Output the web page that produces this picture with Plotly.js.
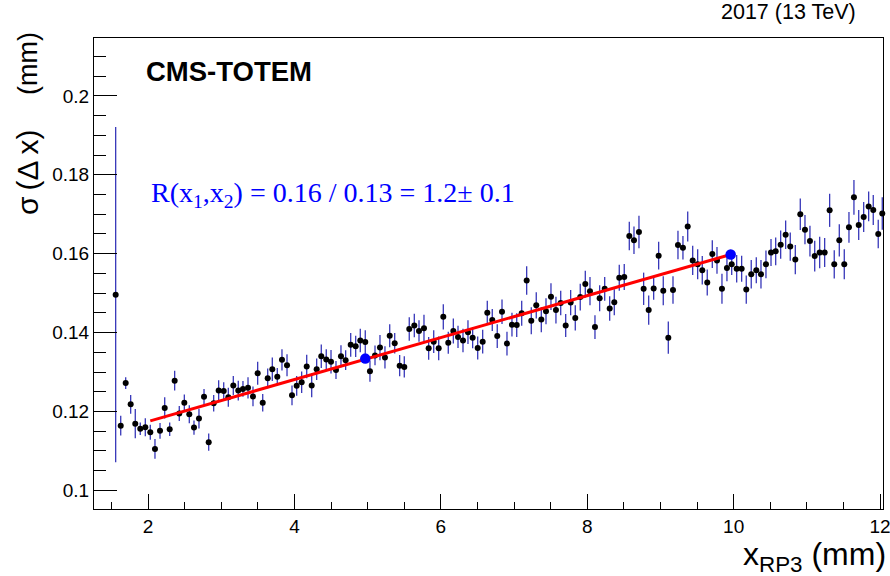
<!DOCTYPE html>
<html>
<head>
<meta charset="utf-8">
<script src="https://cdn.plot.ly/plotly-3.0.1.min.js"></script>
<style>html,body{margin:0;padding:0;background:#fff;}#chart{width:890px;height:576px;}</style>
</head>
<body>
<div id="chart"></div>
<script>
// x_RP3 bin positions (mm)
const xRP3 = [1.557,1.626,1.694,1.762,1.825,1.893,1.962,2.030,2.094,2.163,
2.227,2.295,2.363,2.426,2.495,2.563,2.627,2.695,2.764,2.828,
2.896,2.964,3.033,3.096,3.164,3.232,3.296,3.365,3.433,3.497,
3.566,3.634,3.697,3.765,3.829,3.898,3.966,4.030,4.098,4.167,
4.235,4.303,4.366,4.434,4.499,4.567,4.635,4.699,4.768,4.836,
4.899,4.967,5.031,5.100,5.168,5.236,5.301,5.369,5.437,5.500,
5.568,5.637,5.701,5.769,5.833,5.902,5.970,6.033,6.101,6.170,
6.234,6.302,6.370,6.434,6.503,6.571,6.634,6.702,6.770,6.835,
6.903,6.971,7.036,7.104,7.172,7.235,7.303,7.372,7.436,7.504,
7.572,7.637,7.705,7.773,7.836,7.904,7.973,8.037,8.105,8.169,
8.238,8.306,8.369,8.437,8.505,8.574,8.638,8.706,8.770,8.839,
8.907,8.975,9.038,9.107,9.171,9.239,9.307,9.372,9.440,9.508,
9.571,9.639,9.708,9.772,9.840,9.908,9.973,10.041,10.109,10.172,
10.240,10.309,10.373,10.441,10.510,10.574,10.642,10.710,10.773,10.842,
10.910,10.974,11.042,11.107,11.175,11.243,11.311,11.374,11.443,11.511,
11.575,11.643,11.708,11.776,11.844,11.907,11.975,12.030];

// sigma(Delta x) values (mm)
const sigmaDx = [0.1496,0.1164,0.1272,0.1218,0.1169,0.1156,0.1160,0.1147,0.1105,0.1151,
0.1209,0.1155,0.1278,0.1195,0.1222,0.1193,0.1159,0.1182,0.1237,0.1122,
0.1221,0.1253,0.1252,0.1236,0.1266,0.1253,0.1257,0.1260,0.1238,0.1297,
0.1222,0.1284,0.1307,0.1288,0.1331,0.1317,0.1241,0.1265,0.1274,0.1314,
0.1266,0.1307,0.1340,0.1332,0.1326,0.1305,0.1340,0.1330,0.1369,0.1365,
0.1380,0.1376,0.1302,0.1342,0.1362,0.1337,0.1392,0.1373,0.1316,0.1313,
0.1409,0.1418,0.1404,0.1411,0.1360,0.1377,0.1360,0.1440,0.1374,0.1404,
0.1389,0.1380,0.1401,0.1387,0.1361,0.1377,0.1450,0.1432,0.1391,0.1453,
0.1372,0.1420,0.1419,0.1449,0.1532,0.1430,0.1469,0.1433,0.1454,0.1491,
0.1457,0.1475,0.1418,0.1476,0.1437,0.1490,0.1523,0.1505,0.1414,0.1487,
0.1511,0.1461,0.1477,0.1539,0.1541,0.1645,0.1634,0.1655,0.1511,0.1457,
0.1512,0.1595,0.1506,0.1387,0.1508,0.1622,0.1615,0.1669,0.1583,0.1573,
0.1558,0.1527,0.1599,0.1583,0.1511,0.1564,0.1573,0.1562,0.1562,0.1509,
0.1548,0.1558,0.1548,0.1573,0.1603,0.1606,0.1623,0.1648,0.1618,0.1585,
0.1700,0.1661,0.1632,0.1594,0.1603,0.1603,0.1710,0.1573,0.1634,0.1573,
0.1667,0.1743,0.1673,0.1693,0.1720,0.1711,0.1650,0.1702];

// statistical errors (mm)
const sigmaErr = [0.0425,0.0025,0.0015,0.0024,0.0037,0.0016,0.0023,0.0019,0.0025,0.0020,
0.0027,0.0017,0.0025,0.0019,0.0021,0.0023,0.0018,0.0025,0.0020,0.0022,
0.0021,0.0026,0.0022,0.0024,0.0024,0.0025,0.0020,0.0027,0.0025,0.0029,
0.0022,0.0025,0.0030,0.0022,0.0027,0.0028,0.0025,0.0025,0.0027,0.0030,
0.0030,0.0027,0.0030,0.0026,0.0030,0.0023,0.0028,0.0025,0.0030,0.0027,
0.0030,0.0030,0.0027,0.0025,0.0032,0.0028,0.0029,0.0026,0.0027,0.0027,
0.0030,0.0030,0.0027,0.0034,0.0029,0.0029,0.0030,0.0032,0.0028,0.0032,
0.0028,0.0030,0.0030,0.0027,0.0029,0.0030,0.0031,0.0028,0.0030,0.0031,
0.0030,0.0030,0.0030,0.0032,0.0036,0.0034,0.0033,0.0032,0.0033,0.0034,
0.0034,0.0031,0.0029,0.0032,0.0032,0.0034,0.0034,0.0036,0.0030,0.0033,
0.0030,0.0031,0.0033,0.0033,0.0033,0.0036,0.0035,0.0041,0.0041,0.0037,
0.0029,0.0035,0.0037,0.0041,0.0035,0.0036,0.0030,0.0038,0.0037,0.0038,
0.0036,0.0033,0.0035,0.0034,0.0038,0.0034,0.0027,0.0035,0.0033,0.0036,
0.0036,0.0033,0.0036,0.0035,0.0034,0.0035,0.0036,0.0036,0.0036,0.0037,
0.0040,0.0037,0.0039,0.0039,0.0040,0.0037,0.0042,0.0036,0.0041,0.0038,
0.0039,0.0044,0.0038,0.0038,0.0038,0.0038,0.0036,0.0041];

// linear fit endpoints and ratio points
const fitX = [2.030, 9.959];
const fitY = [0.1176, 0.1598];
const ratioX = [4.967, 9.959];
const ratioY = [0.1334, 0.1598];

const xTickVals = [2,4,6,8,10,12];
const yTickVals = [0.1,0.12,0.14,0.16,0.18,0.2];
const yTickText = ['0.1','0.12','0.14','0.16','0.18','0.2'];

const traces = [
  {
    x: xRP3, y: sigmaDx, type: 'scatter', mode: 'markers',
    marker: {color: '#000000', size: 6},
    error_y: {type: 'data', array: sigmaErr, visible: true, color: 'rgb(55,55,185)', thickness: 1.3, width: 0},
    cliponaxis: false,
    showlegend: false, hoverinfo: 'skip'
  },
  {
    x: fitX, y: fitY, type: 'scatter', mode: 'lines',
    line: {color: '#ff0000', width: 3},
    showlegend: false, hoverinfo: 'skip'
  },
  {
    x: ratioX, y: ratioY, type: 'scatter', mode: 'markers',
    marker: {color: '#0000ff', size: 10.5},
    showlegend: false, hoverinfo: 'skip'
  }
];

const W = 789, H = 471, L = 94, T = 38;
function px2paperX(p){ return (p - L) / W; }
function px2paperY(p){ return (T + H - p) / H; }

const SANS = 'Liberation Sans, Arial, sans-serif';
const SERIF = 'Liberation Serif, Times New Roman, serif';

const layout = {
  width: 890, height: 576,
  margin: {l: 94, r: 7, t: 38, b: 67, pad: 0},
  paper_bgcolor: '#ffffff', plot_bgcolor: '#ffffff',
  font: {family: SANS, color: '#000000', size: 19},
  showlegend: false,
  xaxis: {
    range: [1.261, 12.04], tickvals: xTickVals, ticktext: xTickVals.map(String),
    ticks: 'inside', ticklen: 15, tickwidth: 1, tickcolor: '#000',
    minor: {dtick: 0.5, ticks: 'inside', ticklen: 7, tickwidth: 1, tickcolor: '#000', showgrid: false},
    showgrid: false, zeroline: false, showline: true, linecolor: '#000', linewidth: 1, mirror: true,
    ticklabeloverflow: 'allow',
    tickfont: {size: 19, family: SANS}
  },
  yaxis: {
    range: [0.09526, 0.2147], tickvals: yTickVals, ticktext: yTickText,
    ticks: 'inside', ticklen: 23, tickwidth: 1, tickcolor: '#000',
    minor: {dtick: 0.005, tick0: 0.1, ticks: 'inside', ticklen: 12, tickwidth: 1, tickcolor: '#000', showgrid: false},
    showgrid: false, zeroline: false, showline: true, linecolor: '#000', linewidth: 1, mirror: true,
    tickfont: {size: 19, family: SANS}
  },
  annotations: [
    {text: '<b>CMS-TOTEM</b>', xref: 'paper', yref: 'paper', x: px2paperX(144), y: px2paperY(71),
     xanchor: 'left', yanchor: 'middle', showarrow: false,
     font: {family: SANS, size: 27.5, color: '#000'}},
    {text: '2017 (13 TeV)', xref: 'paper', yref: 'paper', x: px2paperX(858), y: px2paperY(12),
     xanchor: 'right', yanchor: 'middle', showarrow: false,
     font: {family: SANS, size: 21.5, color: '#000'}},
    {text: 'R(x<sub>1</sub>,x<sub>2</sub>) = 0.16 / 0.13 = 1.2± 0.1', xref: 'paper', yref: 'paper',
     x: px2paperX(149), y: px2paperY(194), xanchor: 'left', yanchor: 'middle', showarrow: false,
     font: {family: SERIF, size: 28, color: '#0000ff'}},
    {text: '(mm)', xref: 'paper', yref: 'paper', x: px2paperX(28), y: px2paperY(64),
     xanchor: 'center', yanchor: 'middle', textangle: -90, showarrow: false,
     font: {family: SANS, size: 27, color: '#000'}},
    {text: 'σ\u2009(Δ\u2009x)', xref: 'paper', yref: 'paper', x: px2paperX(27), y: px2paperY(172),
     xanchor: 'center', yanchor: 'middle', textangle: -90, showarrow: false,
     font: {family: SANS, size: 30, color: '#000'}},
    {text: 'x<sub>RP3</sub> (mm)', xref: 'paper', yref: 'paper', x: px2paperX(888), y: px2paperY(556),
     xanchor: 'right', yanchor: 'middle', showarrow: false,
     font: {family: SANS, size: 32, color: '#000'}}
  ]
};

Plotly.newPlot('chart', traces, layout, {staticPlot: true, displayModeBar: false});
</script>
</body>
</html>
